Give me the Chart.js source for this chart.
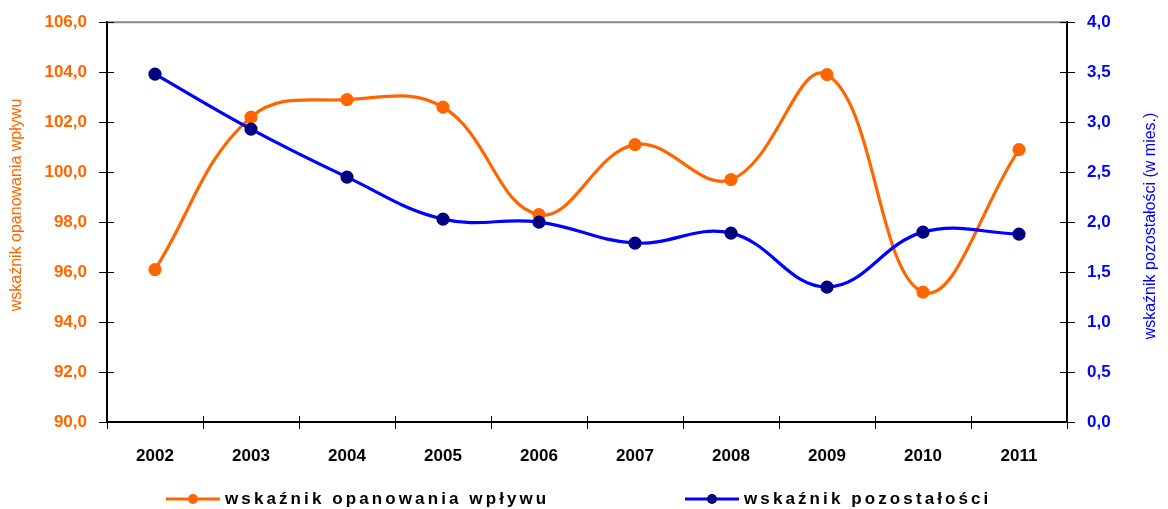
<!DOCTYPE html>
<html>
<head>
<meta charset="utf-8">
<script src="https://cdn.jsdelivr.net/npm/chart.js@4"></script>
<style>
  html, body { margin: 0; padding: 0; background: #fff; }
  #chart-container { width: 1168px; height: 509px; }
</style>
</head>
<body>
<div id="chart-container"><canvas id="chart" width="1168" height="509"></canvas></div>
<script>
const years = ['2002', '2003', '2004', '2005', '2006', '2007', '2008', '2009', '2010', '2011'];
const opanowanie = [96.1, 102.2, 102.9, 102.6, 98.3, 101.1, 99.7, 103.9, 95.2, 100.9];
const pozostalosci = [3.48, 2.93, 2.45, 2.03, 2.00, 1.79, 1.89, 1.35, 1.90, 1.88];
const leftTicks = ['90,0', '92,0', '94,0', '96,0', '98,0', '100,0', '102,0', '104,0', '106,0'];
const rightTicks = ['0,0', '0,5', '1,0', '1,5', '2,0', '2,5', '3,0', '3,5', '4,0'];

const ORANGE = '#FF6600';
const BLUE = '#0000FF';
const NAVY = '#000080';
const FONT = '"Liberation Sans", Arial, sans-serif';

const ctx = document.getElementById('chart');
ctx.width = 1168;
ctx.height = 509;

// axis titles, inner tick stubs, top border and legend
const decor = {
  id: 'decor',
  afterDraw(chart) {
    const c = chart.ctx;
    const a = chart.chartArea;
    c.save();

    // top border
    c.strokeStyle = '#888';
    c.lineWidth = 2;
    c.beginPath();
    c.moveTo(a.left, a.top);
    c.lineTo(a.right, a.top);
    c.stroke();

    // inner tick stubs
    c.strokeStyle = '#000';
    c.lineWidth = 1;
    const yl = chart.scales.y, yr = chart.scales.y1, xs = chart.scales.x;
    c.beginPath();
    yl.ticks.forEach((t, i) => {
      const y = Math.round(yl.getPixelForTick(i)) + 0.5;
      c.moveTo(a.left, y); c.lineTo(a.left + 7, y);
    });
    yr.ticks.forEach((t, i) => {
      const y = Math.round(yr.getPixelForTick(i)) + 0.5;
      c.moveTo(a.right - 7, y); c.lineTo(a.right, y);
    });
    for (let i = 1; i < years.length; i++) {
      const x = Math.round(xs.getPixelForValue(i - 0.5)) + 0.5;
      c.moveTo(x, a.bottom - 6); c.lineTo(x, a.bottom);
    }
    c.stroke();

    // axis titles
    c.font = '16px ' + FONT;
    c.textAlign = 'center';
    c.textBaseline = 'middle';
    c.fillStyle = ORANGE;
    c.save();
    c.translate(17, 205);
    c.rotate(-Math.PI / 2);
    c.fillText('wskaźnik opanowania wpływu', 0, 0);
    c.restore();
    c.fillStyle = BLUE;
    c.save();
    c.translate(1151, 226);
    c.rotate(-Math.PI / 2);
    c.fillText('wskaźnik pozostałości (w mies.)', 0, 0);
    c.restore();

    // legend
    const items = [
      { x: 166, ds: chart.data.datasets[0] },
      { x: 685, ds: chart.data.datasets[1] }
    ];
    const ly = 499;
    c.font = 'bold 17px ' + FONT;
    c.textAlign = 'left';
    c.letterSpacing = '3.1px';
    items.forEach(it => {
      c.strokeStyle = it.ds.borderColor;
      c.lineWidth = 3;
      c.beginPath();
      c.moveTo(it.x, ly); c.lineTo(it.x + 54, ly);
      c.stroke();
      c.fillStyle = it.ds.pointBackgroundColor;
      c.beginPath();
      c.arc(it.x + 27, ly, 5, 0, Math.PI * 2);
      c.fill();
      c.fillStyle = '#000';
      c.fillText(it.ds.label, it.x + 59, ly);
    });
    c.restore();
  }
};

new Chart(ctx, {
  type: 'line',
  data: {
    labels: years,
    datasets: [
      {
        label: 'wskaźnik opanowania wpływu',
        data: opanowanie,
        yAxisID: 'y',
        borderColor: ORANGE,
        backgroundColor: ORANGE,
        pointBackgroundColor: ORANGE,
        pointBorderColor: ORANGE,
        borderWidth: 3.2,
        pointRadius: 5,
        tension: 0.4,
        order: 1
      },
      {
        label: 'wskaźnik pozostałości',
        data: pozostalosci,
        yAxisID: 'y1',
        borderColor: BLUE,
        backgroundColor: NAVY,
        pointBackgroundColor: NAVY,
        pointBorderColor: NAVY,
        borderWidth: 3.2,
        pointRadius: 5,
        tension: 0.4,
        order: 0
      }
    ]
  },
  options: {
    responsive: false,
    maintainAspectRatio: false,
    animation: false,
    layout: { padding: { top: 22, left: 0, right: 0, bottom: 0 } },
    plugins: { legend: { display: false }, tooltip: { enabled: false } },
    scales: {
      x: {
        offset: true,
        grid: { offset: true, drawOnChartArea: false, color: '#000', tickLength: 7 },
        border: { color: '#000', width: 2 },
        ticks: { color: '#000', font: { family: FONT, size: 17, weight: 'bold' }, padding: 17, maxRotation: 0 },
        afterFit: s => { s.height = 87; }
      },
      y: {
        position: 'left',
        min: 90, max: 106,
        ticks: {
          stepSize: 2,
          color: ORANGE,
          font: { family: FONT, size: 17, weight: 'bold' },
          padding: 12,
          callback: (v, i) => leftTicks[i]
        },
        grid: { drawOnChartArea: false, color: '#000', tickLength: 8 },
        border: { color: '#000', width: 2 },
        afterFit: s => { s.width = 107; }
      },
      y1: {
        position: 'right',
        min: 0, max: 4,
        ticks: {
          stepSize: 0.5,
          color: BLUE,
          font: { family: FONT, size: 17, weight: 'bold' },
          padding: 12,
          callback: (v, i) => rightTicks[i]
        },
        grid: { drawOnChartArea: false, color: '#000', tickLength: 8 },
        border: { color: '#000', width: 2 },
        afterFit: s => { s.width = 101; }
      }
    }
  },
  plugins: [decor]
});
</script>
</body>
</html>
